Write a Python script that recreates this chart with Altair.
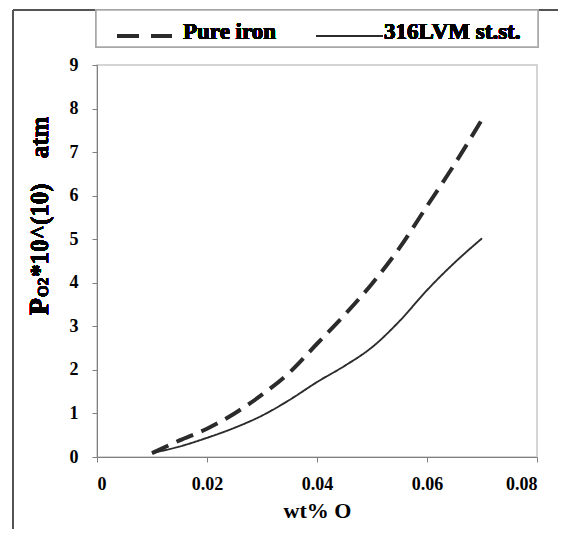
import altair as alt
import pandas as pd

# ---- data ----
wt_o = [0.010, 0.015, 0.020, 0.025, 0.030, 0.035, 0.040, 0.045, 0.050, 0.055, 0.060, 0.065, 0.070]
pure_iron = [0.09, 0.38, 0.65, 1.00, 1.43, 1.94, 2.60, 3.26, 3.98, 4.80, 5.76, 6.72, 7.75]
ss_316lvm = [0.09, 0.24, 0.44, 0.67, 0.95, 1.31, 1.72, 2.09, 2.52, 3.12, 3.83, 4.46, 5.02]
series_names = ["Pure iron", "316LVM st.st."]
x_ticks = [0, 0.02, 0.04, 0.06, 0.08]
y_ticks = [0, 1, 2, 3, 4, 5, 6, 7, 8, 9]

rows = []
for i, xv in enumerate(wt_o):
    rows.append({"wt": xv, "p": pure_iron[i], "series": series_names[0]})
    rows.append({"wt": xv, "p": ss_316lvm[i], "series": series_names[1]})
df = pd.DataFrame(rows)

FONT = "Liberation Serif, Times New Roman, serif"
W, H = 440, 392

x_enc = alt.X(
    "wt:Q",
    scale=alt.Scale(domain=[0, 0.08], nice=False, zero=False),
    axis=alt.Axis(
        values=x_ticks, format="~g", title="wt% O", grid=False,
        domainColor="#808080", tickColor="#808080", tickSize=5,
        labelFont=FONT, labelFontSize=18, labelFontWeight="bold", labelColor="#000",
        labelPadding=13, titleFont=FONT, titleFontSize=22, titleFontWeight="bold",
        titleColor="#000", titlePadding=7,
    ),
)
y_enc = alt.Y(
    "p:Q",
    scale=alt.Scale(domain=[0, 9], nice=False),
    axis=alt.Axis(
        values=y_ticks, title=None, grid=False,
        domainColor="#808080", tickColor="#808080", tickSize=5,
        labelFont=FONT, labelFontSize=18, labelFontWeight="bold", labelColor="#000",
        labelPadding=14,
    ),
)

lines = alt.Chart(df).mark_line(interpolate="monotone", color="#2b2b2b").encode(
    x=x_enc,
    y=y_enc,
    strokeDash=alt.StrokeDash(
        "series:N",
        scale=alt.Scale(domain=series_names, range=[[18, 9], [1, 0]]),
        legend=None,
    ),
    strokeWidth=alt.StrokeWidth(
        "series:N",
        scale=alt.Scale(domain=series_names, range=[4, 1.9]),
        legend=None,
    ),
    detail="series:N",
)

# ---- decorations: outer frame, legend box, y title ----
frame_top = alt.Chart(df).mark_rule(color="#555", strokeWidth=1).encode(
    x=alt.value(-84), x2=alt.value(W + 30), y=alt.value(-55)
)
frame_left = alt.Chart(df).mark_rule(color="#555", strokeWidth=1).encode(
    x=alt.value(-84), y=alt.value(-55), y2=alt.value(H + 90)
)
legend_box = alt.Chart(df).mark_rect(fill="white", stroke="#a8a8a8", strokeWidth=1.5).encode(
    x=alt.value(-1), x2=alt.value(441), y=alt.value(-55), y2=alt.value(-18)
)
leg_dash = alt.Chart(df).mark_rule(color="#2b2b2b", strokeWidth=4, strokeDash=[22, 12]).encode(
    x=alt.value(20), x2=alt.value(75), y=alt.value(-29)
)
leg_solid = alt.Chart(df).mark_rule(color="#2b2b2b", strokeWidth=1.9).encode(
    x=alt.value(219), x2=alt.value(286), y=alt.value(-29)
)
leg_t1 = alt.Chart(df).mark_text(
    font=FONT, fontSize=23, fontWeight="bold", align="left", baseline="alphabetic", color="#000"
).encode(x=alt.value(86), y=alt.value(-26.5), text=alt.value(series_names[0]))
leg_t2 = alt.Chart(df).mark_text(
    font=FONT, fontSize=23, fontWeight="bold", align="left", baseline="alphabetic", color="#000"
).encode(x=alt.value(287), y=alt.value(-26.5), text=alt.value(series_names[1]))

NB = "\u00a0"
title_p = alt.Chart(df).mark_text(
    font=FONT, fontSize=28, fontWeight="bold", align="left", baseline="alphabetic", angle=270, color="#000"
).encode(x=alt.value(-49), y=alt.value(250), text=alt.value("P"))
title_o2 = alt.Chart(df).mark_text(
    font=FONT, fontSize=15, fontWeight="bold", align="left", baseline="alphabetic", angle=270, color="#000"
).encode(x=alt.value(-49), y=alt.value(232), text=alt.value("O2"))
title_rest = alt.Chart(df).mark_text(
    font=FONT, fontSize=25, fontWeight="bold", align="left", baseline="alphabetic", angle=270, color="#000"
).encode(x=alt.value(-49), y=alt.value(212), text=alt.value("*10^(10)" + NB * 4 + "atm"))

chart = alt.layer(
    frame_top, frame_left, legend_box, leg_dash, leg_solid, leg_t1, leg_t2,
    title_p, title_o2, title_rest, lines,
).properties(
    width=W, height=H,
    autosize=alt.AutoSizeParams(type="none"),
    padding={"left": 89, "top": 57, "right": 21, "bottom": 72},
).configure_view(stroke="#c8c8c8", strokeWidth=1.5)

chart.save("out.html", embed_options={"renderer": "svg", "actions": False})
